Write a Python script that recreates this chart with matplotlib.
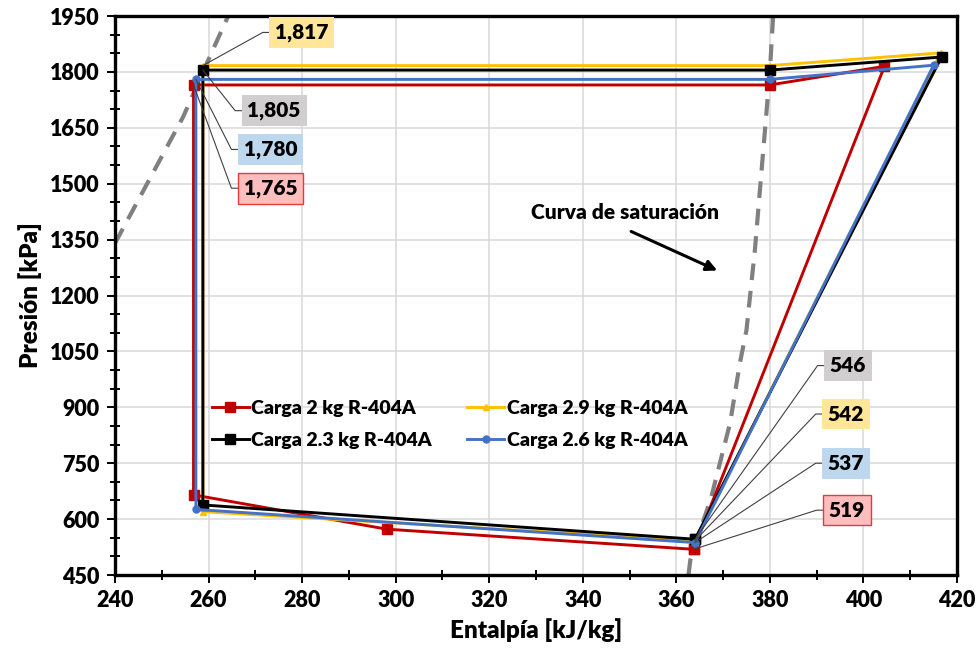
import numpy as np
import matplotlib.pyplot as plt
from matplotlib.ticker import MultipleLocator

plt.rcParams['font.family'] = ['Lato', 'DejaVu Sans']
plt.rcParams['font.weight'] = 'bold'

## Ciclos P-h para cada carga de refrigerante
h_2kg = [363.7, 404.5, 380.0, 256.8, 256.8, 298.1, 363.7]
p_2kg = [519, 1815, 1765, 1765, 665, 573, 519]

h_29kg = [364.0, 416.5, 380.0, 258.8, 258.8, 364.0]
p_29kg = [542, 1851, 1817, 1817, 620, 542]

h_23kg = [364.0, 416.7, 380.0, 258.8, 258.8, 364.0]
p_23kg = [546, 1840, 1805, 1805, 638, 546]

h_26kg = [364.0, 415.0, 380.0, 257.3, 257.3, 364.0]
p_26kg = [537, 1818, 1780, 1780, 626, 537]

## Curva de saturacion (liquido y vapor)
h_sat_liq = [240.0, 254.6, 260.6, 264.2]
p_sat_liq = [1340, 1680, 1850, 1950]
h_sat_vap = [362.6, 363.0, 367.5, 371.5, 373.6, 375.0, 376.8, 380.0, 380.7]
p_sat_vap = [450, 490, 660, 858, 1019, 1107, 1322, 1800, 1950]

fig = plt.figure(figsize=(9.8, 6.57), dpi=100)
ax = fig.add_axes([0.1173, 0.1248, 0.8592, 0.8508])

ax.plot(h_sat_liq, p_sat_liq, color='#808080', lw=3, ls=(0, (4, 2.6)), zorder=2)
ax.plot(h_sat_vap, p_sat_vap, color='#808080', lw=3, ls=(0, (4, 2.6)), zorder=2)

l_red, = ax.plot(h_2kg, p_2kg, color='#C00000', lw=2.1, marker='s', ms=7,
                 label='Carga 2 kg R-404A', zorder=3)
l_yel, = ax.plot(h_29kg, p_29kg, color='#FFC000', lw=2.1, marker='^', ms=5,
                 label='Carga 2.9 kg R-404A', zorder=4)
l_blk, = ax.plot(h_23kg, p_23kg, color='black', lw=2.1, marker='s', ms=7,
                 label='Carga 2.3 kg R-404A', zorder=5)
l_blu, = ax.plot(h_26kg, p_26kg, color='#4472C4', lw=2.1, marker='o', ms=5,
                 label='Carga 2.6 kg R-404A', zorder=6)

ax.set_xlim(240, 420)
ax.set_ylim(450, 1950)
ax.xaxis.set_major_locator(MultipleLocator(20))
ax.xaxis.set_minor_locator(MultipleLocator(10))
ax.yaxis.set_major_locator(MultipleLocator(150))
ax.yaxis.set_minor_locator(MultipleLocator(50))
ax.grid(True, which='major', color='#D9D9D9', lw=1.1, zorder=0)
ax.set_axisbelow(True)
for s in ax.spines.values():
    s.set_linewidth(2.4)
ax.tick_params(which='major', direction='out', length=6, width=1.4, labelsize=15.5, pad=5)
ax.tick_params(which='minor', direction='inout', length=7, width=1.4)
plt.setp(ax.get_xticklabels() + ax.get_yticklabels(), fontweight='heavy')

ax.set_xlabel('Entalpía [kJ/kg]', fontsize=17.5, fontweight='heavy', labelpad=5)
ax.set_ylabel('Presión [kPa]', fontsize=17.5, fontweight='heavy', labelpad=6)

ax.legend(handles=[l_red, l_blk, l_yel, l_blu], ncol=2, frameon=False,
          loc='upper left', bbox_to_anchor=(0.094, 0.345),
          handlelength=1.9, handletextpad=0.15, columnspacing=1.8, labelspacing=0.78,
          prop={'weight': 'heavy', 'size': 14})

## Etiquetas de presion con linea guia
def etiqueta(h, p, h_codo, p_codo, texto, fondo, borde=None):
    ax.plot([h, h_codo, h_codo + 1.6], [p, p_codo, p_codo], color='#404040', lw=0.8, zorder=7)
    ax.text(h_codo + 2.6, p_codo, texto, ha='left', va='center', fontsize=15,
            fontweight='heavy', zorder=8,
            bbox=dict(boxstyle='square,pad=0.28', fc=fondo,
                      ec=borde if borde else 'none', lw=1))

etiqueta(h_29kg[3], p_29kg[3], 271.6, 1906, '1,817', '#FFE699')
etiqueta(h_23kg[3], p_23kg[3], 265.7, 1696, '1,805', '#D0CECE')
etiqueta(h_26kg[3], p_26kg[3], 264.9, 1592, '1,780', '#BDD7EE')
etiqueta(h_2kg[3], p_2kg[3], 264.9, 1488, '1,765', '#FFBDBD', '#E03C3C')

etiqueta(h_23kg[0], p_23kg[0], 390.2, 1012, '546', '#D0CECE')
etiqueta(h_29kg[0], p_29kg[0], 389.8, 882, '542', '#FFE699')
etiqueta(h_26kg[0], p_26kg[0], 389.8, 750, '537', '#BDD7EE')
etiqueta(h_2kg[0], p_2kg[0], 390.0, 624, '519', '#FFBDBD', '#E03C3C')

ax.text(349, 1424, 'Curva de saturación', ha='center', va='center',
        fontsize=15, fontweight='heavy')
ax.annotate('', xy=(369.3, 1264), xytext=(349.8, 1375),
            arrowprops=dict(arrowstyle='-|>', color='black', lw=2.2,
                            mutation_scale=16))

fig.savefig('out.png', dpi=100)
